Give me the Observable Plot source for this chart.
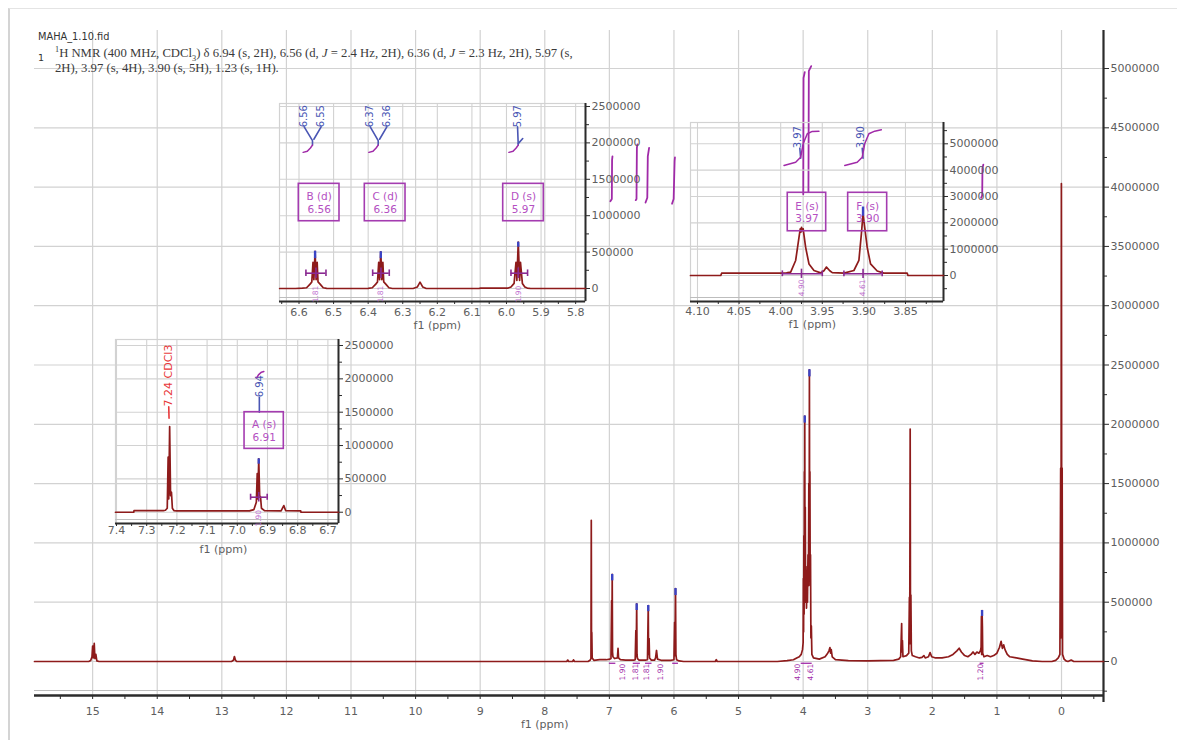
<!DOCTYPE html>
<html>
<head>
<meta charset="utf-8">
<script src="https://cdn.jsdelivr.net/npm/d3@7"></script>
<script src="https://cdn.jsdelivr.net/npm/@observablehq/plot@0.6"></script>
<style>
  html, body { margin: 0; padding: 0; background: #fff; }
  body { width: 1177px; height: 740px; position: relative; overflow: hidden; }
  .layer { position: absolute; }
  .layer svg { display: block; }
  #edge { position: absolute; left: 8px; top: 8px; width: 1169px; height: 732px; border-left: 2px solid #d4d4d4; border-top: 1px solid #e4e4e4; }
  #fid { position: absolute; left: 38px; top: 31px; font: 9.8px "DejaVu Sans", sans-serif; color: #333; white-space: nowrap; }
  #num { position: absolute; left: 38px; top: 52px; font: 9.5px "DejaVu Sans", sans-serif; color: #333; }
  #desc { position: absolute; left: 55px; top: 46px; font: 12.7px "Liberation Serif", serif; color: #3a3a3a; line-height: 15px; white-space: nowrap; }
  #desc sup, #desc sub { font-size: 65%; line-height: 0; }
</style>
</head>
<body>
<div id="edge"></div>
<div id="main" class="layer" style="left:0;top:0;width:1177px;height:740px"></div>
<div id="inset3" class="layer" style="left:105px;top:330px;width:300px;height:232px"></div>
<div id="inset1" class="layer" style="left:270px;top:95px;width:400px;height:245px"></div>
<div id="inset2" class="layer" style="left:680px;top:110px;width:340px;height:231px"></div>
<div id="fid">MAHA_1.10.fid</div>
<div id="num">1</div>
<div id="desc"><sup>1</sup>H NMR (400 MHz, CDCl<sub>3</sub>) δ 6.94 (s, 2H), 6.56 (d, <i>J</i> = 2.4 Hz, 2H), 6.36 (d, <i>J</i> = 2.3 Hz, 2H), 5.97 (s,<br>2H), 3.97 (s, 4H), 3.90 (s, 5H), 1.23 (s, 1H).</div>
<script>
// ---------------- DATA (ppm, intensity) ----------------
const mainXTicks = [0, 1, 2, 3, 4, 5, 6, 7, 8, 9, 10, 11, 12, 13, 14, 15];
const mainXMinor = [-0.5, 0, 0.5, 1, 1.5, 2, 2.5, 3, 3.5, 4, 4.5, 5, 5.5, 6, 6.5, 7, 7.5, 8, 8.5, 9, 9.5, 10, 10.5, 11, 11.5, 12, 12.5, 13, 13.5, 14, 14.5, 15, 15.5];
const mainYTicks = [0, 500000, 1000000, 1500000, 2000000, 2500000, 3000000, 3500000, 4000000, 4500000, 5000000];
const mainYMinor = [-250000, 250000, 750000, 1250000, 1750000, 2250000, 2750000, 3250000, 3750000, 4250000, 4750000];

const mainSpectrum = [
  [15.90, 0], [15.06, 0], [15.03, 8000], [15.01, 40000], [15.00, 130000], [14.99, 30000], [14.975, 152000], [14.965, 25000], [14.95, 60000], [14.935, 5000], [14.90, 0],
  [12.85, 0], [12.82, 10000], [12.805, 42000], [12.79, 12000], [12.77, 0],
  [7.66, 0], [7.645, 12000], [7.63, 0], [7.57, 0], [7.555, 14000], [7.54, 0],
  [7.33, 0], [7.30, 10000], [7.285, 25000], [7.28, 1190000], [7.276, 80000], [7.272, 245000], [7.266, 30000], [7.24, 10000], [7.15, 15000], [7.05, 15000], [6.99, 20000],
  [6.975, 25000], [6.965, 514000], [6.961, 60000], [6.956, 734000], [6.951, 80000], [6.945, 40000], [6.92, 25000], [6.875, 30000], [6.866, 110000], [6.858, 30000], [6.83, 15000], [6.75, 12000], [6.62, 12000],
  [6.60, 15000], [6.59, 261000], [6.585, 40000], [6.577, 486000], [6.572, 60000], [6.565, 25000], [6.54, 12000], [6.44, 12000],
  [6.41, 15000], [6.398, 472000], [6.393, 60000], [6.385, 194000], [6.378, 30000], [6.35, 12000], [6.30, 12000], [6.285, 30000], [6.27, 93000], [6.255, 20000], [6.20, 10000], [6.05, 10000],
  [6.00, 15000], [5.99, 331000], [5.985, 50000], [5.976, 615000], [5.97, 60000], [5.96, 15000], [5.92, 5000], [5.85, 0],
  [5.36, 0], [5.345, 15000], [5.33, 0],
  [4.40, 0], [4.25, 8000], [4.15, 15000], [4.10, 30000], [4.06, 40000], [4.03, 60000], [4.01, 100000],
  [4.00, 160000], [3.997, 700000], [3.993, 250000], [3.989, 1060000], [3.985, 400000], [3.981, 1600000], [3.978, 600000], [3.975, 2070000], [3.971, 700000], [3.967, 1300000], [3.962, 500000], [3.955, 800000], [3.948, 450000], [3.94, 700000], [3.933, 500000], [3.925, 900000], [3.918, 640000], [3.912, 1500000], [3.907, 700000], [3.903, 2460000], [3.899, 900000], [3.895, 1600000], [3.891, 640000], [3.886, 900000], [3.88, 200000], [3.873, 300000], [3.865, 60000], [3.84, 30000], [3.75, 20000], [3.66, 40000], [3.62, 70000], [3.60, 90000], [3.585, 118000], [3.575, 70000], [3.565, 100000], [3.55, 40000], [3.50, 15000], [3.30, 8000], [3.00, 5000], [2.60, 10000],
  [2.52, 20000], [2.49, 40000], [2.475, 320000], [2.47, 80000], [2.463, 177000], [2.455, 40000], [2.40, 50000], [2.365, 70000], [2.355, 540000], [2.35, 150000], [2.343, 1960000], [2.338, 200000], [2.332, 560000], [2.325, 90000], [2.31, 50000], [2.26, 40000],
  [2.20, 30000], [2.16, 35000], [2.13, 50000], [2.11, 30000], [2.06, 40000], [2.035, 75000], [2.01, 40000], [1.95, 30000], [1.85, 30000], [1.75, 40000], [1.68, 60000], [1.62, 90000], [1.585, 112000], [1.55, 80000], [1.50, 50000], [1.45, 40000], [1.40, 60000], [1.37, 80000], [1.34, 60000], [1.31, 80000], [1.28, 70000], [1.255, 90000], [1.245, 120000], [1.24, 380000], [1.236, 60000], [1.23, 430000], [1.225, 300000], [1.22, 70000], [1.20, 40000], [1.15, 50000], [1.10, 40000], [1.05, 50000], [1.00, 70000], [0.96, 120000], [0.935, 170000], [0.915, 110000], [0.895, 140000], [0.875, 100000], [0.84, 60000], [0.80, 40000], [0.70, 30000], [0.60, 20000], [0.45, 5000], [0.30, 0], [0.15, 0],
  [0.09, 10000], [0.05, 30000], [0.025, 60000], [0.013, 1630000], [0.008, 200000], [0.002, 4030000], [-0.004, 250000], [-0.01, 1630000], [-0.016, 60000], [-0.04, 20000], [-0.07, 5000], [-0.10, 0], [-0.15, 12000], [-0.19, 0], [-0.65, 0]
];
// peak-picking tips: ppm, from, to
const mainTips = [[6.956, 680000, 734000], [6.577, 430000, 486000], [6.398, 420000, 472000], [5.976, 556000, 615000], [3.975, 2010000, 2070000], [3.903, 2400000, 2460000], [1.23, 380000, 430000]];
const mainIntegrals = {
  A: [[6.985, 3880000], [6.962, 3900000], [6.958, 4230000], [6.952, 4260000]],
  B: [[6.592, 3890000], [6.580, 3900000], [6.574, 4330000], [6.566, 4360000]],
  C: [[6.44, 3870000], [6.413, 3910000], [6.405, 4260000], [6.385, 4330000]],
  D: [[6.03, 3860000], [6.005, 3900000], [5.99, 4220000], [5.985, 4250000]],
  E: [[3.998, 3940000], [3.994, 4920000], [3.975, 4970000]],
  F: [[3.918, 3960000], [3.912, 4980000], [3.875, 5020000]],
  G: [[1.245, 3910000], [1.228, 3930000], [1.224, 4160000], [1.21, 4190000]]
};
const mainIntRanges = [[7.00, 6.90], [6.63, 6.52], [6.44, 6.34], [6.02, 5.93], [4.03, 3.86], [1.26, 1.20]];
const mainIntLabels = [[6.80, "1.90"], [6.60, "1.81"], [6.42, "1.81"], [6.20, "1.90"], [4.09, "4.90"], [3.885, "4.61"], [1.26, "1.20"]];

// Inset 1 (6.66 – 5.77 ppm)
const inset1XTicks = [6.6, 6.5, 6.4, 6.3, 6.2, 6.1, 6.0, 5.9, 5.8];
const inset1XMinor = [6.65, 6.6, 6.55, 6.5, 6.45, 6.4, 6.35, 6.3, 6.25, 6.2, 6.15, 6.1, 6.05, 6.0, 5.95, 5.9, 5.85, 5.8];
const inset1YTicks = [0, 500000, 1000000, 1500000, 2000000, 2500000];
const inset1YMinor = [250000, 750000, 1250000, 1750000, 2250000];
const inset1Spectrum = [
  [6.656, 0], [6.61, 0], [6.59, 4000], [6.578, 10000], [6.568, 60000], [6.563, 90000], [6.5595, 360000], [6.557, 120000], [6.5535, 512000], [6.5505, 120000], [6.5475, 360000], [6.545, 90000], [6.539, 60000], [6.53, 10000], [6.52, 3000], [6.50, 0],
  [6.40, 3000], [6.388, 10000], [6.378, 60000], [6.373, 90000], [6.3695, 360000], [6.367, 120000], [6.3635, 505000], [6.3605, 120000], [6.3575, 360000], [6.355, 90000], [6.349, 60000], [6.34, 10000], [6.33, 0],
  [6.27, 0], [6.258, 20000], [6.25, 87000], [6.242, 20000], [6.232, 0],
  [6.08, 0], [6.075, 6000], [5.995, 6000], [5.987, 20000], [5.978, 70000], [5.9725, 360000], [5.97, 110000], [5.966, 636000], [5.962, 110000], [5.9595, 360000], [5.954, 70000], [5.947, 20000], [5.94, 6000], [5.93, 0], [5.7715, 0]
];
const inset1Tips = [[6.5535, 410000, 512000], [6.3635, 410000, 505000], [5.966, 567000, 636000]];
const inset1PeakLabels = [[6.585, "6.56"], [6.536, "6.55"], [6.394, "6.37"], [6.346, "6.36"], [5.968, "5.97"]];
const inset1Links = {
  B1: [[6.585, 2220000], [6.561, 2030000], [6.561, 1970000]],
  B2: [[6.536, 2220000], [6.557, 2050000]],
  C1: [[6.394, 2220000], [6.371, 2030000], [6.371, 1970000]],
  C2: [[6.346, 2220000], [6.367, 2050000]],
  D1: [[5.968, 2220000], [5.966, 1970000]],
  D2: [[5.966, 1990000], [5.953, 2060000]]
};
const inset1Integrals = {
  B: [[6.561, 1970000], [6.567, 1930000], [6.576, 1885000], [6.588, 1870000]],
  C: [[6.371, 1970000], [6.377, 1930000], [6.386, 1885000], [6.398, 1870000]],
  D: [[5.966, 1970000], [5.972, 1930000], [5.981, 1885000], [5.993, 1870000]]
};
const inset1Boxes = [
  ["B (d)", "6.56", 6.6006, 6.4829, 924000, 1437600],
  ["C (d)", "6.36", 6.4097, 6.2920, 924000, 1437600],
  ["D (s)", "5.97", 6.0095, 5.8921, 924000, 1437600]
];
const inset1Brackets = [[6.58, 6.522, 6.551], [6.387, 6.339, 6.363], [5.987, 5.939, 5.966]];
const inset1IntLabels = [[6.551, "1.81"], [6.363, "1.81"], [5.966, "1.90"]];

// Inset 2 (4.11 – 3.80 ppm)
const inset2XTicks = [4.10, 4.05, 4.00, 3.95, 3.90, 3.85];
const inset2XMinor = [4.10, 4.075, 4.05, 4.025, 4.00, 3.975, 3.95, 3.925, 3.90, 3.875, 3.85, 3.825];
const inset2YTicks = [0, 1000000, 2000000, 3000000, 4000000, 5000000];
const inset2YMinor = [-500000, 500000, 1500000, 2500000, 3500000, 4500000, 5500000];
const inset2Spectrum = [
  [4.1084, 0], [4.072, 0], [4.071, 88000], [4.00, 88000], [3.993, 100000], [3.988, 127000], [3.982, 570000], [3.978, 1450000], [3.9765, 1770000], [3.9755, 1650000], [3.975, 1830000], [3.974, 1700000], [3.973, 1770000], [3.970, 1070000], [3.966, 440000], [3.960, 190000], [3.952, 100000], [3.948, 180000], [3.945, 320000], [3.941, 180000], [3.938, 110000], [3.924, 90000], [3.912, 190000], [3.906, 570000], [3.903, 1580000], [3.901, 2340000], [3.899, 1830000], [3.896, 1070000], [3.892, 440000], [3.884, 170000], [3.876, 90000], [3.848, 90000], [3.847, 0], [3.8043, 0]
];
const inset2Tips = [[3.901, 2250000, 2600000]];
const inset2PeakLabels = [[3.980, "3.97"], [3.904, "3.90"]];
const inset2Links = {
  E: [[3.977, 4830000], [3.976, 4450000]],
  F: [[3.902, 4830000], [3.901, 4450000]]
};
const inset2Integrals = {
  E: [[3.996, 4180000], [3.982, 4300000], [3.976, 4490000], [3.973, 5000000], [3.968, 5380000], [3.962, 5470000], [3.954, 5480000]],
  F: [[3.923, 4180000], [3.908, 4300000], [3.902, 4490000], [3.899, 5000000], [3.894, 5380000], [3.887, 5480000], [3.879, 5530000]]
};
const inset2Boxes = [
  ["E (s)", "3.97", 3.9915, 3.9453, 1680000, 3140000],
  ["F (s)", "3.90", 3.9189, 3.8720, 1680000, 3140000]
];
const inset2Brackets = [[3.998, 3.950, 3.975], [3.924, 3.878, 3.901]];
const inset2IntLabels = [[3.975, "4.90"], [3.901, "4.61"]];

// Inset 3 (7.40 – 6.66 ppm)
const inset3XTicks = [7.4, 7.3, 7.2, 7.1, 7.0, 6.9, 6.8, 6.7];
const inset3XMinor = [7.4, 7.35, 7.3, 7.25, 7.2, 7.15, 7.1, 7.05, 7.0, 6.95, 6.9, 6.85, 6.8, 6.75, 6.7];
const inset3YTicks = [0, 500000, 1000000, 1500000, 2000000, 2500000];
const inset3YMinor = [250000, 750000, 1250000, 1750000, 2250000];
const inset3Spectrum = [
  [7.4033, 0], [7.343, 0], [7.342, 25000], [7.245, 25000], [7.238, 30000], [7.232, 60000], [7.229, 825000], [7.227, 200000], [7.224, 1285000], [7.221, 250000], [7.218, 300000], [7.215, 60000], [7.21, 25000], [7.20, 20000],
  [6.96, 20000], [6.945, 40000], [6.937, 150000], [6.934, 580000], [6.932, 200000], [6.929, 800000], [6.926, 250000], [6.923, 225000], [6.92, 60000], [6.91, 25000], [6.855, 20000], [6.846, 100000], [6.84, 25000], [6.79, 20000], [6.789, 0], [6.6649, 0]
];
const inset3Tips = [[6.929, 720000, 800000]];
const inset3SolventLabel = [[7.227, "7.24 CDCl3"]];
const inset3PeakLabels = [[6.925, "6.94"]];
const inset3Links = {A: [[6.927, 1720000], [6.927, 1500000]]};
const inset3SolventLinks = {S: [[7.227, 1580000], [7.226, 1410000]]};
const inset3Integrals = {A: [[6.935, 2020000], [6.93, 2060000], [6.92, 2100000], [6.912, 2110000]]};
const inset3Boxes = [["A (s)", "6.91", 6.976, 6.846, 950000, 1500000]];
const inset3Brackets = [[6.956, 6.901, 6.929]];
const inset3IntLabels = [[6.929, "1.90"]];

// ---------------- STYLE ----------------
const FONT = "'DejaVu Sans', Verdana, sans-serif";
const GRID = "#d2d2d2";
const AXIS = "#2b2b2b";
const TICKTXT = "#5e5e5e";
const SPEC = "#8e1b1b";
const TIP = "#3b44c4";
const INTEG = "#a02aa8";
const BRACK = "#8a2a92";
const LABEL = "#4a56b4";
const BOXC = "#a43cb0";
const BOXTXT = "#b450c2";
const INTTXT = "#c070d0";
const SOLV = "#e8383a";

const rows = (arr) => arr.map(([ppm, v]) => ({ppm, v}));
const series = (obj) => Object.entries(obj).flatMap(([id, pts]) => pts.map(([ppm, v]) => ({id, ppm, v})));
const baseStyle = {background: "transparent", fontFamily: FONT, fontSize: "11px", color: TICKTXT, overflow: "visible", maxWidth: "none"};

// ---------------- MAIN ----------------
const mainYMin = -286700, mainYMax = 5320600, mainXLeft = 15.9, mainXRight = -0.65;
const mainPlot = Plot.plot({
  width: 1177, height: 740,
  marginLeft: 34, marginRight: 74, marginTop: 30, marginBottom: 45,
  style: baseStyle,
  x: {domain: [mainXLeft, mainXRight], axis: null},
  y: {domain: [mainYMin, mainYMax], axis: null},
  marks: [
    Plot.gridX(mainXTicks, {stroke: GRID, strokeOpacity: 1, strokeWidth: 1.2}),
    Plot.gridY(mainYTicks, {stroke: GRID, strokeOpacity: 1, strokeWidth: 1.2}),
    Plot.ruleY([mainYMin], {stroke: "#bdbdbd", strokeWidth: 1.2, dy: -5}),
    Plot.ruleY([mainYMin], {stroke: AXIS, strokeWidth: 2.5}),
    Plot.axisX(mainXMinor, {tickSize: 4, tickFormat: () => "", stroke: AXIS, label: null}),
    Plot.axisX(mainXTicks, {tickSize: 0, tickPadding: 12, tickFormat: d => String(d), fill: TICKTXT, fontSize: 11, label: null}),
    Plot.ruleX([mainXRight], {y1: mainYMin - 60000, y2: mainYMax, stroke: AXIS, strokeWidth: 2.2}),
    Plot.axisY(mainYTicks, {anchor: "right", tickSize: 5, tickPadding: 2, tickFormat: d => String(d), stroke: AXIS, fill: TICKTXT, fontSize: 11, label: null}),
    Plot.axisY(mainYMinor, {anchor: "right", tickSize: 3, tickFormat: () => "", stroke: AXIS, label: null}),
    Plot.text(["f1 (ppm)"], {x: 8.0, frameAnchor: "bottom", dy: 32, fill: TICKTXT, fontSize: 11}),
    Plot.line(rows(mainSpectrum), {x: "ppm", y: "v", stroke: SPEC, strokeWidth: 1.7}),
    Plot.ruleX(mainTips, {x: d => d[0], y1: d => d[1], y2: d => d[2], stroke: TIP, strokeWidth: 2.4}),
    Plot.line(series(mainIntegrals), {x: "ppm", y: "v", z: "id", stroke: INTEG, strokeWidth: 1.8}),
    Plot.ruleY(mainIntRanges, {y: -15000, x1: d => d[0], x2: d => d[1], stroke: INTEG, strokeWidth: 1.3}),
    Plot.text(mainIntLabels, {x: d => d[0], y: -90000, text: d => d[1], rotate: -90, fill: INTEG, fontSize: 7.5})
  ]
});
document.getElementById("main").append(mainPlot);

// ---------------- INSETS ----------------
function inset(c) {
  const yMin = c.yDom[0], yMax = c.yDom[1];
  return Plot.plot({
    width: c.w, height: c.h,
    marginTop: c.m[0], marginRight: c.m[1], marginBottom: c.m[2], marginLeft: c.m[3],
    style: baseStyle,
    x: {domain: c.xDom, axis: null},
    y: {domain: c.yDom, axis: null},
    marks: [
      Plot.frame({stroke: GRID, strokeWidth: 1.2}),
      Plot.gridX(c.xTicks, {stroke: GRID, strokeOpacity: 1, strokeWidth: 1.1}),
      Plot.gridY(c.yTicks, {stroke: GRID, strokeOpacity: 1, strokeWidth: 1.1}),
      Plot.ruleY([yMin], {stroke: "#bdbdbd", strokeWidth: 1.2, dy: -4}),
      Plot.ruleY([yMin], {stroke: AXIS, strokeWidth: 2}),
      Plot.ruleX([c.xDom[1]], {y1: yMin, y2: yMax, stroke: AXIS, strokeWidth: 2}),
      Plot.axisX(c.xMinor, {tickSize: 3, tickFormat: () => "", stroke: AXIS, label: null}),
      Plot.axisX(c.xTicks, {tickSize: 0, tickPadding: c.pad, tickFormat: d3.format(c.fmt), fill: TICKTXT, fontSize: 11, label: null}),
      Plot.axisY(c.yTicks, {anchor: "right", tickSize: 4, tickPadding: 2, tickFormat: d => String(d), stroke: AXIS, fill: TICKTXT, fontSize: 11, label: null}),
      Plot.axisY(c.yMinor, {anchor: "right", tickSize: 3, tickFormat: () => "", stroke: AXIS, label: null}),
      Plot.text(["f1 (ppm)"], {x: c.f1x, frameAnchor: "bottom", dy: c.f1dy, fill: TICKTXT, fontSize: 11}),
      Plot.line(rows(c.spectrum), {x: "ppm", y: "v", stroke: SPEC, strokeWidth: 1.7}),
      Plot.ruleX(c.tips, {x: d => d[0], y1: d => d[1], y2: d => d[2], stroke: TIP, strokeWidth: 2.4}),
      // integration brackets
      Plot.ruleY(c.brackets, {y: c.brY, x1: d => d[0], x2: d => d[1], stroke: BRACK, strokeWidth: 1.6}),
      Plot.ruleX(c.brackets.flatMap(d => [d[0], d[1]]), {y1: c.brY - c.brT, y2: c.brY + c.brT, stroke: BRACK, strokeWidth: 1.6}),
      Plot.ruleX(c.brackets, {x: d => d[2], y1: c.brY - 1.6 * c.brT, y2: c.brY + 1.6 * c.brT, stroke: BRACK, strokeWidth: 1.6}),
      Plot.text(c.intLabels, {x: d => d[0], y: c.intY, text: d => d[1], rotate: -90, fill: INTTXT, fontSize: 7.5}),
      // peak labels and connectors
      Plot.text(c.peakLabels, {x: d => d[0], y: c.labelY, text: d => d[1], rotate: -90, fill: LABEL, fontSize: 10}),
      Plot.line(series(c.links), {x: "ppm", y: "v", z: "id", stroke: LABEL, strokeWidth: 1.6}),
      Plot.line(series(c.integrals), {x: "ppm", y: "v", z: "id", stroke: INTEG, strokeWidth: 1.5}),
      // multiplet boxes
      Plot.rect(c.boxes, {x1: d => d[2], x2: d => d[3], y1: d => d[4], y2: d => d[5], fill: "none", stroke: BOXC, strokeWidth: 1.6}),
      Plot.text(c.boxes, {x: d => (d[2] + d[3]) / 2, y: d => (d[4] + d[5]) / 2, text: d => d[0] + "\n" + d[1], fill: BOXTXT, fontSize: 10.5, lineHeight: 1.2}),
      ...(c.extra || [])
    ]
  });
}

document.getElementById("inset1").append(inset({
  w: 400, h: 245, m: [8, 85, 39, 9],
  xDom: [6.6564, 5.7715], yDom: [-178500, 2541000],
  xTicks: inset1XTicks, xMinor: inset1XMinor, yTicks: inset1YTicks, yMinor: inset1YMinor,
  fmt: ".1f", pad: 7, f1x: 6.2, f1dy: 27,
  spectrum: inset1Spectrum, tips: inset1Tips,
  brackets: inset1Brackets, brY: 210000, brT: 45000, intLabels: inset1IntLabels, intY: -75000,
  peakLabels: inset1PeakLabels, labelY: 2366000, links: inset1Links, integrals: inset1Integrals,
  boxes: inset1Boxes
}));

document.getElementById("inset2").append(inset({
  w: 340, h: 231, m: [12, 77, 40, 10],
  xDom: [4.1084, 3.8043], yDom: [-987000, 5809000],
  xTicks: inset2XTicks, xMinor: inset2XMinor, yTicks: inset2YTicks, yMinor: inset2YMinor,
  fmt: ".2f", pad: 6, f1x: 3.962, f1dy: 26,
  spectrum: inset2Spectrum, tips: inset2Tips,
  brackets: inset2Brackets, brY: 65000, brT: 110000, intLabels: inset2IntLabels, intY: -470000,
  peakLabels: inset2PeakLabels, labelY: 5250000, links: inset2Links, integrals: inset2Integrals,
  boxes: inset2Boxes
}));

document.getElementById("inset3").append(inset({
  w: 300, h: 232, m: [9, 67, 39, 10],
  xDom: [7.4033, 6.6649], yDom: [-169000, 2590000],
  xTicks: inset3XTicks, xMinor: inset3XMinor, yTicks: inset3YTicks, yMinor: inset3YMinor,
  fmt: ".1f", pad: 3, f1x: 7.046, f1dy: 29,
  spectrum: inset3Spectrum, tips: inset3Tips,
  brackets: inset3Brackets, brY: 225000, brT: 45000, intLabels: inset3IntLabels, intY: -90000,
  peakLabels: inset3PeakLabels, labelY: 1890000, links: inset3Links, integrals: inset3Integrals,
  boxes: inset3Boxes,
  extra: [
    Plot.text(inset3SolventLabel, {x: d => d[0], y: 2050000, text: d => d[1], rotate: -90, fill: SOLV, fontSize: 11}),
    Plot.line(series(inset3SolventLinks), {x: "ppm", y: "v", z: "id", stroke: SOLV, strokeWidth: 1.6})
  ]
}));
</script>
</body>
</html>
